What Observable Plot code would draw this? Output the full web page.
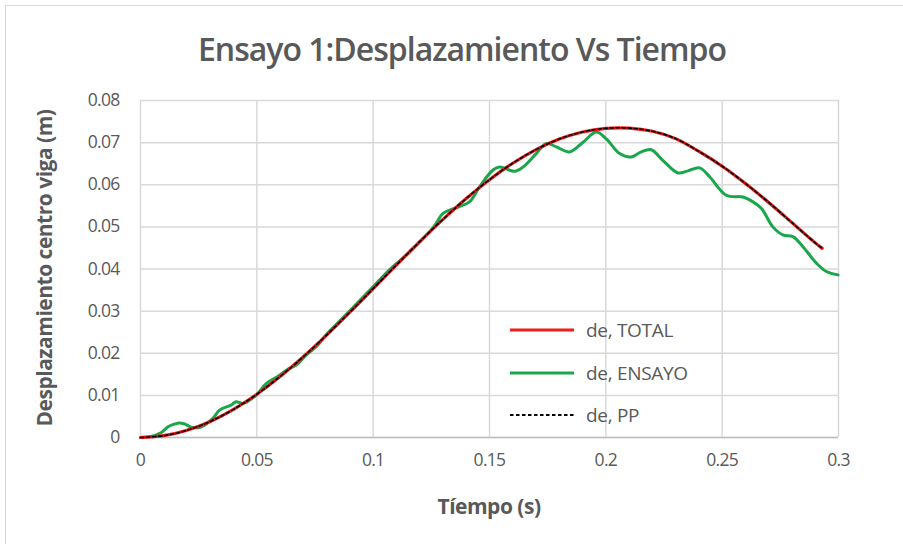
<!DOCTYPE html>
<html>
<head>
<meta charset="utf-8">
<script src="https://cdn.jsdelivr.net/npm/d3@7"></script>
<script src="https://cdn.jsdelivr.net/npm/@observablehq/plot@0.6"></script>
<style>
  html, body { margin: 0; padding: 0; background: #fff; overflow: hidden; }
  #wrap { position: relative; width: 903px; height: 544px; overflow: hidden; background: #fff;
          font-family: "Open Sans", sans-serif; color: #595959; }
  #frame { position: absolute; left: 5px; top: 5px; width: 920px; height: 560px; border: 1px solid #d9d9d9; }
  #title { position: absolute; left: 0; top: 28px; width: 924px; text-align: center;
           font-family: "Open Sans", sans-serif; font-weight: 600; font-size: 32px; line-height: 42px; color: #595959; letter-spacing: -1px; }
  #chart { position: absolute; left: 0; top: 75px; }
  #xlabel { position: absolute; left: 489px; top: 492px; transform: translateX(-50%);
            font-family: "Open Sans", sans-serif; font-weight: 700; font-size: 21px; line-height: 28px; color: #595959; letter-spacing: -0.5px; white-space: nowrap; }
  #ylabel { position: absolute; left: 44px; top: 268px; transform: translate(-50%, -50%) rotate(-90deg);
            font-family: "Open Sans", sans-serif; font-weight: 700; font-size: 21px; line-height: 28px; color: #595959; letter-spacing: -0.5px; white-space: nowrap; }
  #legend { position: absolute; left: 508px; top: 309px; font-size: 19px; color: #595959; letter-spacing: -0.3px; }
  #legend .row { display: flex; align-items: center; height: 42.6px; }
  #legend svg { margin-right: 10px; }
</style>
</head>
<body>
<div id="wrap">
  <div id="frame"></div>
  <div id="title">Ensayo 1:Desplazamiento Vs Tiempo</div>
  <div id="chart"></div>
  <div id="xlabel">Tíempo (s)</div>
  <div id="ylabel">Desplazamiento centro viga (m)</div>
  <div id="legend"></div>
</div>
<script>
// Tick values
const xTicks = [0, 0.05, 0.1, 0.15, 0.2, 0.25, 0.3];
const yTicks = [0, 0.01, 0.02, 0.03, 0.04, 0.05, 0.06, 0.07, 0.08];

// Series names
const seriesNames = ["de, TOTAL", "de, ENSAYO", "de, PP"];

// de, TOTAL
const totalTime = [0, 0.01, 0.02, 0.03, 0.04, 0.05, 0.06, 0.07, 0.08, 0.09, 0.10, 0.11, 0.12, 0.13, 0.14, 0.15,
  0.16, 0.17, 0.18, 0.19, 0.20, 0.21, 0.22, 0.23, 0.24, 0.25, 0.26, 0.27, 0.28, 0.29, 0.293];
const totalDisp = [0, 0.00043, 0.00171, 0.00381, 0.00669, 0.01027, 0.01446, 0.01919, 0.02432, 0.02975, 0.03534,
  0.04097, 0.04649, 0.05178, 0.05673, 0.06121, 0.06511, 0.06834, 0.07084, 0.07253, 0.07339, 0.07345, 0.07270,
  0.07095, 0.06790, 0.06440, 0.06030, 0.05580, 0.05100, 0.04620, 0.04490];

// de, PP (coincides with TOTAL in the picture)
const ppTime = [0, 0.01, 0.02, 0.03, 0.04, 0.05, 0.06, 0.07, 0.08, 0.09, 0.10, 0.11, 0.12, 0.13, 0.14, 0.15,
  0.16, 0.17, 0.18, 0.19, 0.20, 0.21, 0.22, 0.23, 0.24, 0.25, 0.26, 0.27, 0.28, 0.29, 0.293];
const ppDisp = [0, 0.00043, 0.00171, 0.00381, 0.00669, 0.01027, 0.01446, 0.01919, 0.02432, 0.02975, 0.03534,
  0.04097, 0.04649, 0.05178, 0.05673, 0.06121, 0.06511, 0.06834, 0.07084, 0.07253, 0.07339, 0.07345, 0.07270,
  0.07095, 0.06790, 0.06440, 0.06030, 0.05580, 0.05100, 0.04620, 0.04490];

// de, ENSAYO
const ensayoTime = [0, 0.004, 0.009, 0.012, 0.016, 0.019, 0.022, 0.026, 0.031, 0.034, 0.039, 0.041, 0.044, 0.05,
  0.054, 0.059, 0.063, 0.067, 0.071, 0.076, 0.08, 0.087, 0.093, 0.1, 0.107, 0.116, 0.126, 0.13, 0.134, 0.137,
  0.1415, 0.1457, 0.1515, 0.1543, 0.1608, 0.1644, 0.1701, 0.1744, 0.1787, 0.1844, 0.1902, 0.1959, 0.2002,
  0.2059, 0.2109, 0.2152, 0.2195, 0.2245, 0.231, 0.2353, 0.2403, 0.2446, 0.2518, 0.2589, 0.2618, 0.2668,
  0.2718, 0.2761, 0.2804, 0.2847, 0.2905, 0.2948, 0.2998];
const ensayoDisp = [0, 0.0002, 0.0012, 0.0026, 0.0034, 0.0032, 0.0024, 0.0025, 0.0045, 0.0065, 0.0077, 0.0085, 0.0081,
  0.0102, 0.0128, 0.0145, 0.0161, 0.0172, 0.0195, 0.0218, 0.0245, 0.0284, 0.0318, 0.0358, 0.0398, 0.0442, 0.05,
  0.0532, 0.0542, 0.0548, 0.056, 0.0595, 0.0635, 0.0642, 0.0632, 0.0642, 0.0674, 0.0698, 0.069, 0.0678, 0.0701,
  0.0725, 0.0709, 0.0674, 0.0666, 0.0678, 0.0683, 0.0658, 0.0628, 0.0633, 0.064, 0.0619, 0.0575, 0.0571,
  0.0564, 0.0544, 0.05, 0.0481, 0.0477, 0.0453, 0.0414, 0.0394, 0.0386];

const colors = ["#ee1c1c", "#1aa64b", "#000000"];

const total = totalTime.map((t, i) => ({t, d: totalDisp[i]}));
const pp = ppTime.map((t, i) => ({t, d: ppDisp[i]}));
const ensayo = ensayoTime.map((t, i) => ({t, d: ensayoDisp[i]}));

const fmt = d => d === 0 ? "0" : String(+d.toFixed(2));

const chart = Plot.plot({
  width: 903,
  height: 469,
  marginLeft: 140,
  marginRight: 65,
  marginTop: 25,
  marginBottom: 107,
  style: { fontFamily: "'Open Sans', sans-serif", fontSize: "17.5px", letterSpacing: "-0.7px", color: "#595959", background: "transparent" },
  x: { domain: [0, 0.3], ticks: xTicks },
  y: { domain: [0, 0.08], ticks: yTicks },
  marks: [
    Plot.gridX(xTicks, { stroke: "#d9d9d9", strokeOpacity: 1, strokeWidth: 1.5 }),
    Plot.gridY(yTicks, { stroke: "#d9d9d9", strokeOpacity: 1, strokeWidth: 1.5 }),
    Plot.ruleY([0], { stroke: "#bfbfbf", strokeWidth: 1.5 }),
    Plot.axisX(xTicks, { tickSize: 0, tickPadding: 16, tickFormat: fmt, label: null, fill: "#595959" }),
    Plot.axisY(yTicks, { tickSize: 0, tickPadding: 21, tickFormat: fmt, label: null, fill: "#595959" }),
    Plot.line(ensayo, { x: "t", y: "d", stroke: colors[1], strokeWidth: 3, curve: "catmull-rom" }),
    Plot.line(total, { x: "t", y: "d", stroke: colors[0], strokeWidth: 3.2, curve: "catmull-rom" }),
    Plot.line(pp, { x: "t", y: "d", stroke: colors[2], strokeWidth: 1.6, strokeDasharray: "3.5,2.5", curve: "catmull-rom" })
  ]
});
document.getElementById("chart").appendChild(chart);

// Legend
const legend = document.getElementById("legend");
seriesNames.forEach((name, i) => {
  const row = document.createElement("div");
  row.className = "row";
  const dash = i === 2 ? 'stroke-dasharray="3.5,2.5" stroke-width="2"' : 'stroke-width="3"';
  row.innerHTML = `<svg width="68" height="10"><line x1="2" x2="66" y1="5" y2="5" stroke="${colors[i]}" ${dash}/></svg><span>${name}</span>`;
  legend.appendChild(row);
});
</script>
</body>
</html>
